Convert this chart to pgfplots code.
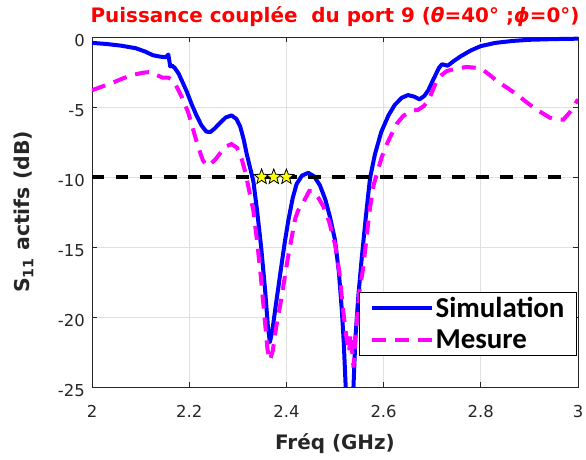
\documentclass[border=0pt]{standalone}
\usepackage{fontspec}
\setmainfont{DejaVu Sans}
\newfontfamily\carlito{Carlito}
\usepackage{pgfplots}
\pgfplotsset{compat=1.18}

\definecolor{axgray}{HTML}{262626}
\definecolor{gridgray}{HTML}{DFDFDF}
\definecolor{mag}{HTML}{FF00FF}
\definecolor{simblue}{HTML}{0000FF}
\definecolor{titlered}{HTML}{FF0000}
\definecolor{staryellow}{HTML}{FFFF00}

\pgfdeclareplotmark{fstar}{%
 \pgfpathmoveto{\pgfpointpolar{90}{\pgfplotmarksize}}%
 \pgfpathlineto{\pgfpointpolar{126}{0.42\pgfplotmarksize}}%
 \pgfpathlineto{\pgfpointpolar{162}{\pgfplotmarksize}}%
 \pgfpathlineto{\pgfpointpolar{198}{0.42\pgfplotmarksize}}%
 \pgfpathlineto{\pgfpointpolar{234}{\pgfplotmarksize}}%
 \pgfpathlineto{\pgfpointpolar{270}{0.42\pgfplotmarksize}}%
 \pgfpathlineto{\pgfpointpolar{306}{\pgfplotmarksize}}%
 \pgfpathlineto{\pgfpointpolar{342}{0.42\pgfplotmarksize}}%
 \pgfpathlineto{\pgfpointpolar{18}{\pgfplotmarksize}}%
 \pgfpathlineto{\pgfpointpolar{54}{0.42\pgfplotmarksize}}%
 \pgfpathclose
 \pgfusepathqfillstroke}

\pgfplotstableread{
f s
2.000 -0.42
2.030 -0.50
2.060 -0.62
2.090 -0.80
2.110 -1.05
2.125 -1.30
2.140 -1.40
2.152 -1.45
2.157 -1.25
2.161 -2.10
2.165 -2.05
2.170 -2.20
2.178 -2.60
2.186 -3.20
2.195 -3.90
2.205 -4.80
2.215 -5.60
2.225 -6.30
2.235 -6.75
2.243 -6.80
2.252 -6.55
2.263 -6.15
2.275 -5.75
2.287 -5.60
2.297 -5.85
2.305 -6.40
2.312 -7.30
2.318 -8.30
2.325 -9.30
2.332 -10.30
2.340 -12.50
2.348 -15.00
2.356 -18.00
2.362 -20.70
2.366 -21.80
2.371 -21.00
2.378 -19.20
2.387 -17.00
2.396 -14.80
2.404 -13.10
2.413 -11.50
2.421 -10.50
2.432 -9.90
2.445 -9.70
2.457 -9.95
2.469 -10.60
2.480 -11.60
2.490 -12.90
2.500 -14.50
2.508 -16.80
2.514 -19.50
2.518 -21.80
2.522 -25.00
2.530 -32.00
2.538 -25.00
2.542 -21.50
2.548 -18.50
2.555 -15.80
2.563 -13.00
2.572 -10.10
2.582 -8.40
2.595 -6.80
2.610 -5.60
2.623 -4.85
2.637 -4.35
2.650 -4.15
2.662 -4.25
2.674 -4.45
2.684 -4.20
2.692 -3.80
2.700 -3.20
2.707 -2.70
2.714 -2.20
2.720 -1.95
2.726 -2.00
2.732 -2.05
2.745 -1.70
2.760 -1.35
2.780 -0.95
2.800 -0.65
2.830 -0.42
2.866 -0.28
2.900 -0.20
2.950 -0.15
3.000 -0.12
}\simdata

\pgfplotstableread{
f m
2.000 -3.80
2.020 -3.55
2.040 -3.30
2.064 -2.95
2.085 -2.70
2.105 -2.55
2.120 -2.50
2.132 -2.70
2.145 -2.90
2.157 -2.90
2.166 -3.10
2.175 -3.60
2.185 -4.30
2.198 -5.40
2.208 -6.60
2.218 -7.80
2.228 -8.80
2.236 -9.20
2.245 -9.05
2.255 -8.70
2.266 -8.20
2.277 -7.80
2.287 -7.65
2.298 -7.90
2.307 -8.60
2.315 -9.60
2.323 -10.90
2.332 -12.40
2.340 -14.70
2.347 -17.00
2.355 -20.00
2.361 -22.30
2.366 -23.10
2.372 -22.40
2.380 -20.50
2.388 -19.00
2.395 -17.50
2.402 -16.00
2.411 -14.30
2.418 -13.00
2.424 -12.40
2.435 -11.80
2.447 -11.00
2.455 -11.00
2.466 -11.50
2.476 -12.10
2.488 -13.20
2.500 -14.80
2.509 -16.80
2.517 -19.60
2.524 -21.60
2.529 -22.50
2.532 -21.20
2.535 -22.30
2.538 -23.60
2.542 -21.50
2.550 -18.20
2.558 -16.50
2.565 -14.30
2.572 -12.20
2.580 -10.50
2.586 -9.80
2.596 -8.60
2.606 -7.70
2.617 -6.90
2.627 -6.20
2.640 -5.65
2.651 -5.40
2.661 -5.25
2.671 -5.20
2.682 -4.95
2.692 -4.57
2.700 -3.90
2.709 -3.15
2.720 -2.70
2.730 -2.43
2.750 -2.25
2.771 -2.14
2.790 -2.20
2.802 -2.30
2.818 -2.70
2.833 -3.14
2.853 -3.60
2.874 -4.10
2.892 -4.60
2.909 -5.05
2.925 -5.40
2.942 -5.76
2.958 -5.92
2.970 -5.90
2.985 -5.30
3.000 -4.45
}\mesdata

\begin{document}
\begin{tikzpicture}
\useasboundingbox (-92bp,-73bp) rectangle (494bp,387bp);
\begin{axis}[
  at={(0,0)}, anchor=south west,
  width=486bp, height=350bp, scale only axis,
  xmin=2, xmax=3, ymin=-25, ymax=0,
  xtick={2,2.2,2.4,2.6,2.8,3},
  ytick={-25,-20,-15,-10,-5,0},
  grid=major,
  major grid style={gridgray, line width=0.8bp},
  axis line style={axgray, line width=0.9bp},
  tick style={axgray, line width=0.9bp},
  major tick length=5bp,
  tick label style={font=\fontsize{16.5}{18}\selectfont, text=axgray},
  /pgf/number format/assume math mode=true,
  xticklabel style={anchor=north, inner sep=0pt, yshift=-18bp},
  yticklabel style={anchor=east, inner sep=0pt, xshift=-7bp, yshift=-4bp},
  title={Puissance couplée\ \ du port 9 (\textit{θ}=40° ;\textit{ϕ}=0°)},
  title style={font=\bfseries\fontsize{20}{22}\selectfont, text=titlered,
    at={(axis description cs:0.5,1)}, anchor=base, yshift=9bp, inner sep=0pt},
  xlabel={Fréq (GHz)},
  xlabel style={font=\bfseries\fontsize{20}{22}\selectfont, text=axgray,
    at={(axis description cs:0.5,-0.18)}, anchor=base, inner sep=0pt},
  ylabel={S\textsubscript{11} actifs (dB)},
  ylabel style={font=\bfseries\fontsize{20.5}{22}\selectfont, text=axgray,
    at={(axis description cs:-0.1276,0.5)}, anchor=base, inner sep=0pt},
  legend style={at={(axis description cs:0.998,0.0886)}, anchor=south east,
    draw=black, line width=1.2bp, fill=white,
    font=\carlito\bfseries\fontsize{29}{33}\selectfont,
    inner xsep=10bp, inner ysep=3bp, row sep=7bp},
  legend cell align=left,
  legend image code/.code={\draw[#1] (0bp,0bp) -- (60bp,0bp);},
]
\addplot[simblue, line width=4bp, line join=round] table[x=f,y=s] {\simdata};
\addlegendentry{Simulation}
\addplot[mag, line width=4bp, dash pattern=on 14bp off 9bp] table[x=f,y=m] {\mesdata};
\addlegendentry{Mesure}
\addplot[black, line width=3.5bp, dash pattern=on 12.5bp off 11.5bp, forget plot] coordinates {(2,-10) (2.98,-10)};
\addplot[only marks, mark=fstar, mark size=8bp, forget plot,
  mark options={fill=staryellow, draw=black, line width=0.8bp, solid}]
  coordinates {(2.349,-10) (2.374,-10) (2.400,-10)};
\end{axis}
\end{tikzpicture}
\end{document}
